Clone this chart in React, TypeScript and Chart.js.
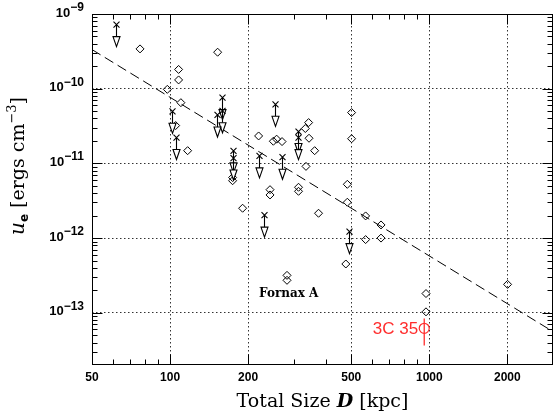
import React, { useEffect, useRef } from "react";
import { Chart, registerables } from "chart.js";

Chart.register(...registerables);

// ---------- axes ----------
const X_MIN = 50;
const X_MAX = 3000;
const Y_MIN = 2e-14;
const Y_MAX = 1e-9;
const xTickLabels = [50, 100, 200, 500, 1000, 2000];
const xMinorTicks = [60, 70, 80, 90, 300, 400, 600, 700, 800, 900];
const yTickExponents = [-9, -10, -11, -12, -13];

// ---------- detections (diamonds) ----------
const detSize = [
  76.6, 152.6, 107.9, 107.9, 97.6, 110.1, 105.1, 116.9, 219.6, 250.3, 257.7, 270.4,
  174.3, 174.3, 190.5, 243.0, 243.0, 313, 313, 332.5, 342.4, 343.6, 361.2, 334.5,
  373.9, 501.5, 501.5, 482.8, 482.8, 476.4, 568, 568, 651.2, 651.2, 282.6, 282.6,
  971, 971, 2004,
];
const detEnergy = [
  3.41e-10, 3.08e-10, 1.81e-10, 1.31e-10, 9.8e-11, 6.5e-11, 3.21e-11, 1.48e-11, 2.33e-11,
  1.98e-11, 2.11e-11, 1.96e-11, 6.47e-12, 5.86e-12, 2.51e-12, 4.45e-12, 3.78e-12, 4.79e-12,
  4.23e-12, 2.93e-11, 3.52e-11, 2.17e-11, 1.48e-11, 9.12e-12, 2.15e-12, 4.79e-11, 2.14e-11,
  5.25e-12, 3.02e-12, 4.5e-13, 1.98e-12, 9.55e-13, 1.5e-12, 1.0e-12, 3.17e-13, 2.72e-13,
  1.81e-13, 1.03e-13, 2.4e-13,
];

// ---------- upper limits (cross + arrow) ----------
const limSize = [
  61.9, 101.8, 105.1, 158.7, 158.7, 151.8, 254.7, 310.5, 310.5, 174.3, 174.3, 219.6,
  269.4, 229.6, 488,
];
const limEnergy = [
  7.2e-10, 4.98e-11, 2.22e-11, 7.59e-11, 5.06e-11, 4.45e-11, 6.18e-11, 2.67e-11, 2.21e-11,
  1.47e-11, 1.18e-11, 1.26e-11, 1.21e-11, 2.03e-12, 1.22e-12,
];

// ---------- fit line ----------
const fitSize = [50, 3000];
const fitEnergy = [3.34e-10, 5.6e-14];

// ---------- 3C 35 ----------
const c35Label = "3C 35";
const c35Size = [956];
const c35Energy = [6.2e-14];
const c35Range = [3.66e-14, 8.4e-14];

// ---------- Fornax A ----------
const fornaxLabel = "Fornax A";
const fornaxSize = 287;
const fornaxEnergy = 1.81e-13;

const RED = "#ff2d2d";
const LIMIT_INDEX = 1;

type Run = { text: string; font: string; dy?: number; w?: number };

function drawRuns(ctx: CanvasRenderingContext2D, runs: Run[], x: number, y: number, align: string) {
  let total = 0;
  runs.forEach((r) => {
    ctx.font = r.font;
    r.w = ctx.measureText(r.text).width;
    total += r.w;
  });
  let cx = align === "center" ? x - total / 2 : align === "right" ? x - total : x;
  ctx.textAlign = "left";
  runs.forEach((r) => {
    ctx.font = r.font;
    ctx.fillText(r.text, cx, y + (r.dy || 0));
    cx += r.w || 0;
  });
}

const zeroFit = (s: any) => {
  s.paddingLeft = 0;
  s.paddingRight = 0;
  s.paddingTop = 0;
  s.paddingBottom = 0;
  if (s.isHorizontal()) s.height = 0;
  else s.width = 0;
};

const decor = {
  id: "decor",
  afterDatasetsDraw(chart: any) {
    const { ctx, chartArea: a, scales } = chart;
    const xs = scales.x;
    const ys = scales.y;
    ctx.save();
    // upper limits
    const meta = chart.getDatasetMeta(LIMIT_INDEX);
    ctx.strokeStyle = "#000";
    ctx.lineWidth = 1.1;
    meta.data.forEach((p: any) => {
      const x = Math.round(p.x) + 0.5;
      const y = p.y;
      ctx.beginPath();
      ctx.moveTo(x - 3, y - 3);
      ctx.lineTo(x + 3, y + 3);
      ctx.moveTo(x + 3, y - 3);
      ctx.lineTo(x - 3, y + 3);
      ctx.moveTo(x, y);
      ctx.lineTo(x, y + 12);
      ctx.stroke();
      ctx.beginPath();
      ctx.moveTo(x - 3.5, y + 12);
      ctx.lineTo(x + 3.5, y + 12);
      ctx.lineTo(x, y + 22);
      ctx.closePath();
      ctx.fillStyle = "#fff";
      ctx.fill();
      ctx.stroke();
    });

    // frame
    const L = Math.round(a.left) + 0.5;
    const R = Math.round(a.right) - 0.5;
    const T = Math.round(a.top) + 0.5;
    const B = Math.round(a.bottom) - 0.5;
    ctx.strokeStyle = "#000";
    ctx.lineWidth = 1;
    ctx.strokeRect(L, T, R - L, B - T);

    // x ticks (inward, top & bottom)
    ctx.beginPath();
    const xt = (v: number, len: number) => {
      const px = Math.round(xs.getPixelForValue(v)) + 0.5;
      ctx.moveTo(px, B);
      ctx.lineTo(px, B - len);
      ctx.moveTo(px, T);
      ctx.lineTo(px, T + len);
    };
    xTickLabels.forEach((v) => xt(v, 10));
    xMinorTicks.forEach((v) => xt(v, 5));
    // y ticks (inward, left & right)
    const yt = (v: number, len: number) => {
      const py = Math.round(ys.getPixelForValue(v)) + 0.5;
      ctx.moveTo(L, py);
      ctx.lineTo(L + len, py);
      ctx.moveTo(R, py);
      ctx.lineTo(R - len, py);
    };
    for (let e = -14; e <= -10; e++) {
      for (let m = 1; m <= 9; m++) {
        const v = m * Math.pow(10, e);
        if (v <= Y_MIN || v >= Y_MAX) continue;
        yt(v, m === 1 ? 10 : 5);
      }
    }
    ctx.stroke();

    // 3C 35 label
    const c35 = chart.getDatasetMeta(4).data[0];
    if (c35) {
      ctx.fillStyle = RED;
      ctx.font = "17px 'Liberation Sans'";
      ctx.textAlign = "right";
      ctx.textBaseline = "alphabetic";
      ctx.fillText(c35Label, c35.x - 6, c35.y + 6);
    }
    // Fornax A label
    ctx.fillStyle = "#000";
    ctx.font = "bold 12px 'DejaVu Serif'";
    ctx.textAlign = "center";
    ctx.textBaseline = "middle";
    ctx.fillText(fornaxLabel, xs.getPixelForValue(fornaxSize), ys.getPixelForValue(fornaxEnergy));
    ctx.restore();
  },
  afterDraw(chart: any) {
    const { ctx, chartArea: a, scales } = chart;
    const xs = scales.x;
    const ys = scales.y;
    ctx.save();
    ctx.fillStyle = "#000";
    ctx.textBaseline = "alphabetic";
    // x tick labels
    ctx.font = "bold 12px 'Liberation Sans'";
    ctx.textAlign = "center";
    xTickLabels.forEach((v) => {
      ctx.fillText(String(v), xs.getPixelForValue(v), a.bottom + 16);
    });
    // y tick labels
    yTickExponents.forEach((e) => {
      const py = ys.getPixelForValue(Math.pow(10, e));
      drawRuns(
        ctx,
        [
          { text: "10", font: "bold 13px 'Liberation Sans'", dy: 2.7 },
          { text: "\u2212" + String(-e), font: "bold 12px 'Liberation Sans'", dy: -3 },
        ],
        a.left - 8,
        py,
        "right"
      );
    });
    // x title
    drawRuns(
      ctx,
      [
        { text: "Total Size ", font: "19px 'DejaVu Serif'" },
        { text: "D", font: "bold italic 19px 'DejaVu Serif'" },
        { text: " [kpc]", font: "19px 'DejaVu Serif'" },
      ],
      (a.left + a.right) / 2,
      407,
      "center"
    );
    // y title
    ctx.save();
    ctx.translate(24, 166);
    ctx.rotate(-Math.PI / 2);
    drawRuns(
      ctx,
      [
        { text: "u", font: "italic 20px 'DejaVu Serif'" },
        { text: "e", font: "bold 12px 'DejaVu Sans'", dy: 4 },
        { text: " [ergs cm", font: "19px 'DejaVu Serif'" },
        { text: "\u22123", font: "13px 'DejaVu Serif'", dy: -8 },
        { text: "]", font: "19px 'DejaVu Serif'" },
      ],
      0,
      0,
      "center"
    );
    ctx.restore();
    ctx.restore();
  },
};

export default function App() {
  const ref = useRef<HTMLCanvasElement | null>(null);
  useEffect(() => {
    if (!ref.current) return;
    const chart = new Chart(ref.current, {
      type: "scatter",
      data: {
        datasets: [
          {
            label: "detections",
            data: detSize.map((x, i) => ({ x, y: detEnergy[i] })),
            pointStyle: "rectRot",
            pointRadius: 4,
            pointBorderWidth: 1,
            borderColor: "#000",
            backgroundColor: "rgba(0,0,0,0)",
          },
          {
            label: "limits",
            data: limSize.map((x, i) => ({ x, y: limEnergy[i] })),
            pointRadius: 0,
            pointHoverRadius: 0,
          },
          {
            label: "fit",
            data: fitSize.map((x, i) => ({ x, y: fitEnergy[i] })),
            showLine: true,
            pointRadius: 0,
            borderColor: "#000",
            borderWidth: 1,
            borderDash: [10, 5],
          },
          {
            label: "3C35 range",
            data: c35Range.map((y) => ({ x: c35Size[0], y })),
            showLine: true,
            pointRadius: 0,
            borderColor: RED,
            borderWidth: 1.3,
          },
          {
            label: "3C35",
            data: c35Size.map((x, i) => ({ x, y: c35Energy[i] })),
            pointStyle: "circle",
            pointRadius: 5,
            pointBorderWidth: 1.2,
            borderColor: RED,
            backgroundColor: "rgba(0,0,0,0)",
          },
        ],
      },
      options: {
        animation: false,
        responsive: false,
        devicePixelRatio: 1,
        layout: { autoPadding: false, padding: { left: 92, right: 2, top: 14, bottom: 47 } },
        plugins: { legend: { display: false }, tooltip: { enabled: false } },
        events: [],
        scales: {
          x: {
            type: "logarithmic",
            min: X_MIN,
            max: X_MAX,
            afterBuildTicks: (s: any) => {
              s.ticks = xTickLabels.map((v) => ({ value: v }));
            },
            afterFit: zeroFit,
            ticks: { display: false },
            grid: { color: "#333", lineWidth: 1, drawTicks: false },
            border: { display: false, dash: [1.5, 2.5] },
          },
          y: {
            type: "logarithmic",
            min: Y_MIN,
            max: Y_MAX,
            afterBuildTicks: (s: any) => {
              s.ticks = yTickExponents.map((e) => ({ value: Math.pow(10, e) }));
            },
            afterFit: zeroFit,
            ticks: { display: false },
            grid: { color: "#333", lineWidth: 1, drawTicks: false },
            border: { display: false, dash: [1.5, 2.5] },
          },
        },
      },
      plugins: [decor],
    } as any);
    return () => chart.destroy();
  }, []);
  return (
    <div style={{ position: "absolute", left: 0, top: 0, width: 555, height: 412, background: "#fff" }}>
      <canvas ref={ref} width={555} height={412} />
    </div>
  );
}
